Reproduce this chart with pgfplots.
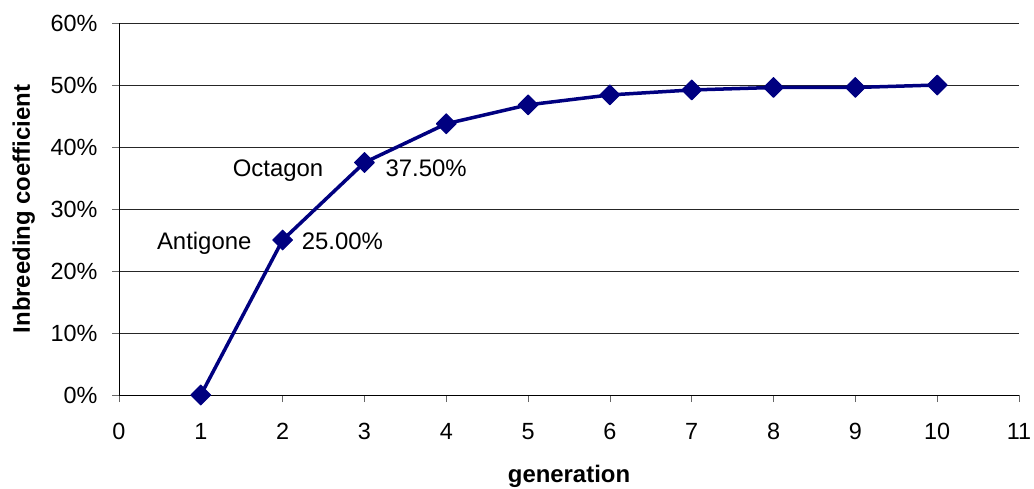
\documentclass[border=0pt]{standalone}
\usepackage{pgfplots}
\pgfplotsset{compat=1.18}
\usepackage{fontspec}
\setmainfont{Liberation Sans}
\definecolor{navy}{HTML}{000080}

\begin{document}
\begin{tikzpicture}
\useasboundingbox (-119bp,-94bp) rectangle (915bp,395bp);
\begin{axis}[
    at={(0,0)}, anchor=south west,
    scale only axis, width=900bp, height=372bp,
    xmin=0, xmax=11, ymin=0, ymax=60,
    xtick={0,1,...,11}, ytick={0,10,...,60},
    axis lines*=left,
    axis line style={black, line width=0.8bp},
    ymajorgrids,
    grid style={black!85, line width=0.8bp},
    tick align=outside, major tick length=7bp,
    tick style={black!60, line width=0.8bp},
    /pgf/number format/assume math mode=true,
    yticklabel={\pgfmathprintnumber{\tick}\%},
    ticklabel style={font=\fontsize{23.5}{28}\selectfont},
    xticklabel style={yshift=-18bp},
    yticklabel style={xshift=-11bp},
    xlabel={generation}, ylabel={Inbreeding coefficient},
    label style={font=\bfseries\fontsize{24}{28}\selectfont},
    xlabel style={at={(axis description cs:0.5,-0.2339)}, anchor=base},
    ylabel style={at={(axis description cs:-0.0989,0.5)}, anchor=base},
    clip=false,
]
\addplot[navy, line width=3.5bp, line join=round,
    mark=square*, mark size=7bp, mark options={rotate=45, solid, fill=navy, line width=1bp}]
    coordinates {(1,0) (2,25) (3,37.5) (4,43.75) (5,46.8) (6,48.4) (7,49.2) (8,49.6) (9,49.6) (10,50)};
\node[anchor=base east, inner sep=0pt, xshift=-41bp, yshift=-13.5bp, font=\fontsize{24}{28}\selectfont] at (axis cs:3,37.5) {Octagon};
\node[anchor=base west, inner sep=0pt, xshift=21bp, yshift=-13.5bp, font=\fontsize{24}{28}\selectfont] at (axis cs:3,37.5) {37.50\%};
\node[anchor=base east, inner sep=0pt, xshift=-31bp, yshift=-9bp, font=\fontsize{24}{28}\selectfont] at (axis cs:2,25) {Antigone};
\node[anchor=base west, inner sep=0pt, xshift=19bp, yshift=-9bp, font=\fontsize{24}{28}\selectfont] at (axis cs:2,25) {25.00\%};
\end{axis}
\end{tikzpicture}
\end{document}
